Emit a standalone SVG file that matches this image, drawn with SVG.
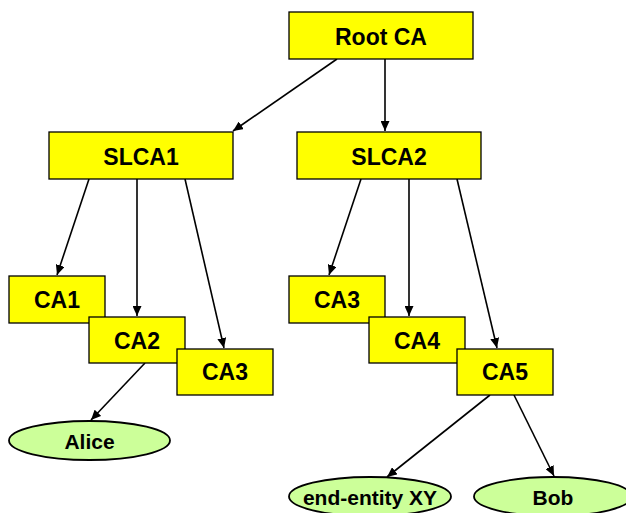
<svg xmlns="http://www.w3.org/2000/svg" width="626" height="513" viewBox="0 0 626 513">
<style>
.box{fill:#ffff00;stroke:#000;stroke-width:1.3}
.ell{fill:#ccff99;stroke:#000;stroke-width:1.8}
.t{font-family:"Liberation Sans",Arial,sans-serif;font-weight:bold;font-size:23px;text-anchor:middle;fill:#000}
.te{font-family:"Liberation Sans",Arial,sans-serif;font-weight:bold;font-size:21px;text-anchor:middle;fill:#000}
.c line{stroke:#000;stroke-width:1.6;marker-end:url(#ah)}
</style>
<defs>
<marker id="ah" markerUnits="userSpaceOnUse" markerWidth="11" markerHeight="9" refX="10" refY="4.5" orient="auto">
<path d="M0,0 L10,4.5 L0,9 Z" fill="#000"/>
</marker>
</defs>
<g class="c" id="connectors">
<line x1="337" y1="59" x2="233" y2="131"/>
<line x1="385" y1="59" x2="385" y2="131"/>
<line x1="89" y1="179" x2="57" y2="275"/>
<line x1="137" y1="179" x2="137" y2="316"/>
<line x1="185" y1="179" x2="224" y2="348"/>
<line x1="361" y1="179" x2="329" y2="275"/>
<line x1="409" y1="179" x2="409" y2="316"/>
<line x1="457" y1="179" x2="497" y2="348"/>
<line x1="145" y1="363" x2="91" y2="420"/>
<line x1="490" y1="395" x2="387" y2="477"/>
<line x1="514" y1="395" x2="554" y2="476"/>
</g>
<g id="rootca"><rect class="box" x="289" y="12" width="184" height="47"/><text class="t" x="381" y="45">Root CA</text></g>
<g id="slca1"><rect class="box" x="49" y="132" width="184" height="47"/><text class="t" x="141" y="165">SLCA1</text></g>
<g id="slca2"><rect class="box" x="297" y="132" width="184" height="47"/><text class="t" x="389" y="165">SLCA2</text></g>
<g id="ca1"><rect class="box" x="9" y="276" width="96" height="47"/><text class="t" x="57" y="308">CA1</text></g>
<g id="ca2"><rect class="box" x="89" y="317" width="96" height="46"/><text class="t" x="137" y="349">CA2</text></g>
<g id="ca3a"><rect class="box" x="177" y="349" width="96" height="46"/><text class="t" x="225" y="380">CA3</text></g>
<g id="ca3b"><rect class="box" x="289" y="276" width="96" height="47"/><text class="t" x="337" y="308">CA3</text></g>
<g id="ca4"><rect class="box" x="369" y="317" width="96" height="46"/><text class="t" x="417" y="349">CA4</text></g>
<g id="ca5"><rect class="box" x="457" y="349" width="96" height="46"/><text class="t" x="505" y="380">CA5</text></g>
<g id="alice"><ellipse class="ell" cx="89.5" cy="440.5" rx="80.5" ry="19.5"/><text class="te" x="89.5" y="449">Alice</text></g>
<g id="endentity"><ellipse class="ell" cx="370" cy="496.5" rx="81" ry="19.5"/><text class="te" x="370" y="505">end-entity XY</text></g>
<g id="bob"><ellipse class="ell" cx="553" cy="496.5" rx="79" ry="19.5"/><text class="te" x="553" y="505">Bob</text></g>
</svg>
